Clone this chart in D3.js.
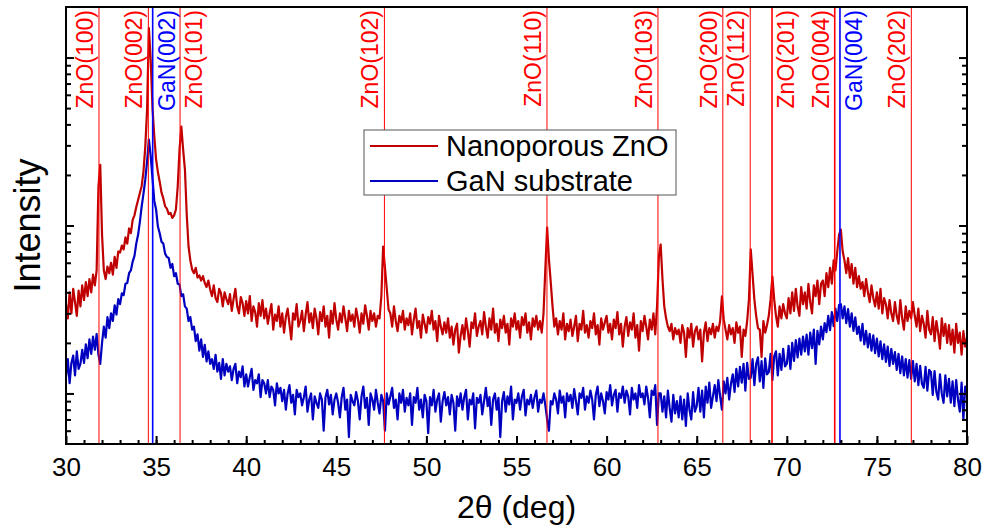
<!DOCTYPE html>
<html>
<head>
<meta charset="utf-8">
<script src="https://cdn.jsdelivr.net/npm/d3@7"></script>
<style>
  body { margin: 0; background: #fff; }
  text { font-family: "Liberation Sans", Arial, sans-serif; }
</style>
</head>
<body>
<script>
// 2theta sampling, 0.1 deg from 30 to 80
const twoTheta = d3.range(501).map(i => +(30 + i * 0.1).toFixed(1));

// nanoporous ZnO intensity (counts), one row per degree
const znoCounts = [
  340, 280, 400, 300, 420, 350, 290, 410, 330, 440,
  360, 460, 380, 480, 400, 510, 440, 540, 1700, 2300,
  880, 540, 480, 570, 520, 600, 510, 650, 560, 700,
  690, 760, 720, 850, 780, 960, 900, 1080, 1150, 1290,
  1420, 1560, 1720, 2100, 2950, 4900, 15000, 9700, 5000, 3400,
  2470, 2080, 1820, 1570, 1450, 1300, 1260, 1170, 1190, 1110,
  1150, 1245, 1707, 2834, 3883, 2834, 2154, 1163, 750, 620,
  547, 520, 560, 490, 505, 470, 500, 455, 430, 470,
  416, 380, 440, 370, 350, 420, 395, 330, 400, 365,
  340, 390, 310, 365, 420, 330, 300, 375, 345, 290,
  355, 300, 380, 270, 330, 305, 250, 345, 290, 360,
  280, 320, 260, 300, 340, 240, 295, 270, 330, 250,
  300, 230, 285, 320, 260, 210, 300, 275, 340, 250,
  270, 310, 235, 295, 350, 265, 300, 245, 320, 280,
  225, 305, 270, 330, 250, 290, 215, 310, 260, 345,
  275, 240, 300, 265, 330, 280, 235, 310, 270, 295,
  250, 320, 280, 230, 300, 260, 335, 290, 240, 310,
  270, 300, 250, 290, 280, 380, 750, 560, 420, 316,
  300, 250, 330, 270, 235, 290, 265, 310, 240, 280,
  255, 300, 225, 275, 320, 245, 270, 215, 295, 260,
  230, 285, 260, 310, 240, 270, 205, 290, 250, 225,
  265, 230, 280, 215, 250, 195, 240, 260, 175, 220,
  255, 210, 280, 235, 190, 265, 245, 300, 220, 250,
  270, 225, 305, 250, 215, 280, 240, 320, 230, 260,
  205, 275, 245, 290, 230, 260, 195, 280, 250, 300,
  240, 270, 215, 285, 255, 300, 230, 265, 210, 280,
  250, 290, 240, 270, 230, 300, 550, 973, 628, 460,
  330, 250, 280, 225, 270, 240, 300, 210, 260, 235,
  275, 220, 250, 290, 205, 260, 240, 310, 230, 255,
  215, 270, 245, 300, 225, 255, 195, 280, 240, 265,
  290, 230, 260, 210, 275, 245, 305, 225, 260, 190,
  250, 285, 220, 265, 240, 300, 215, 255, 180, 270,
  235, 290, 250, 210, 275, 240, 300, 225, 330, 650,
  771, 480, 330, 280, 250, 235, 260, 210, 245, 225,
  240, 200, 255, 230, 165, 245, 215, 260, 190, 235,
  250, 210, 240, 155, 230, 265, 205, 245, 225, 260,
  215, 250, 235, 270, 378, 276, 240, 210, 255, 225,
  245, 200, 265, 230, 250, 165, 240, 220, 270, 363,
  720, 511, 363, 290, 245, 240, 165, 270, 230, 255,
  290, 363, 497, 363, 290, 250, 330, 280, 340, 300,
  280, 370, 300, 400, 310, 420, 330, 290, 430, 340,
  400, 320, 450, 350, 300, 440, 380, 470, 340, 450,
  470, 380, 520, 430, 560, 450, 620, 540, 700, 880,
  946, 700, 620, 520, 640, 490, 590, 450, 560, 430,
  500, 420, 460, 380, 480, 400, 350, 440, 370, 330,
  400, 320, 420, 300, 370, 340, 280, 360, 300, 270,
  350, 290, 260, 360, 280, 240, 330, 270, 310, 280,
  350, 290, 250, 320, 235, 290, 260, 215, 310, 240,
  225, 285, 205, 270, 230, 185, 280, 220, 260, 200,
  255, 195, 240, 175, 260, 200, 230, 170, 235, 190,
  215
];

// GaN substrate intensity (counts)
const ganCounts = [
  125, 160, 115, 152, 168, 128, 178, 140, 150, 182,
  152, 196, 162, 210, 172, 218, 182, 226, 170, 150,
  200, 250, 215, 285, 245, 300, 270, 335, 295, 365,
  340, 395, 385, 450, 455, 520, 540, 610, 660, 780,
  880, 1050, 1300, 1550, 1880, 2400, 3250, 2600, 1900, 1400,
  1245, 986, 900, 800, 780, 680, 650, 640, 560, 590,
  500, 520, 450, 445, 380, 390, 330, 320, 270, 285,
  240, 250, 205, 225, 180, 210, 165, 195, 155, 178,
  150, 160, 140, 170, 135, 152, 122, 160, 128, 150,
  135, 145, 120, 140, 150, 115, 135, 125, 145, 110,
  130, 110, 125, 140, 105, 120, 115, 130, 95, 120,
  115, 100, 120, 95, 110, 105, 85, 115, 100, 108,
  90, 105, 80, 100, 112, 88, 98, 75, 105, 95,
  100, 85, 95, 110, 78, 92, 100, 70, 96, 88,
  82, 100, 92, 60, 95, 105, 86, 98, 75, 92,
  100, 88, 72, 95, 108, 80, 92, 55, 98, 90,
  85, 102, 90, 70, 96, 110, 82, 94, 65, 100,
  92, 80, 105, 88, 76, 98, 90, 60, 100, 86,
  96, 108, 82, 92, 70, 100, 88, 105, 78, 94,
  85, 100, 65, 95, 88, 108, 80, 92, 72, 98,
  90, 58, 95, 85, 105, 78, 92, 100, 68, 90,
  102, 85, 95, 75, 98, 88, 60, 96, 84, 100,
  80, 95, 105, 70, 92, 86, 100, 62, 94, 88,
  98, 75, 90, 108, 84, 95, 65, 92, 100, 80,
  94, 55, 90, 102, 78, 96, 86, 110, 70, 92,
  88, 100, 80, 96, 105, 74, 92, 86, 98, 82,
  95, 104, 78, 92, 88, 100, 85, 70, 60, 90,
  86, 100, 92, 76, 104, 88, 96, 72, 100, 90,
  98, 82, 106, 90, 75, 100, 94, 108, 80, 96,
  88, 104, 92, 70, 98, 110, 84, 100, 90, 76,
  102, 92, 112, 85, 98, 105, 78, 100, 94, 110,
  88, 104, 96, 75, 108, 92, 100, 82, 112, 95,
  100, 86, 110, 94, 72, 104, 98, 112, 65, 100,
  100, 78, 96, 72, 104, 82, 68, 98, 76, 90,
  72, 96, 70, 92, 64, 100, 80, 70, 102, 78,
  84, 108, 78, 104, 72, 110, 88, 116, 82, 96,
  112, 90, 120, 96, 80, 118, 100, 124, 92, 114,
  130, 102, 140, 110, 144, 116, 150, 104, 152, 122,
  124, 160, 112, 150, 164, 118, 156, 108, 162, 130,
  134, 172, 120, 166, 178, 128, 172, 138, 184, 145,
  150, 192, 140, 200, 156, 208, 164, 212, 170, 218,
  178, 224, 170, 230, 186, 240, 150, 236, 196, 250,
  210, 262, 232, 290, 238, 305, 252, 320, 270, 336,
  340, 280, 330, 262, 318, 250, 300, 236, 284, 226,
  250, 206, 260, 196, 236, 188, 226, 180, 222, 174,
  212, 166, 204, 160, 196, 154, 190, 146, 184, 150,
  176, 138, 172, 132, 166, 128, 160, 124, 158, 122,
  156, 118, 150, 112, 146, 114, 108, 144, 104, 138,
  134, 98, 136, 102, 92, 130, 100, 88, 128, 96,
  122, 88, 118, 84, 120, 92, 78, 116, 70, 110,
  98
];

// reference peak positions
const refLabels = ["ZnO(100)", "ZnO(002)", "GaN(002)", "ZnO(101)", "ZnO(102)", "ZnO(110)", "ZnO(103)",
  "ZnO(200)", "ZnO(112)", "ZnO(201)", "ZnO(004)", "GaN(004)", "ZnO(202)"];
const refPos = [31.83, 34.57, 34.81, 36.33, 47.67, 56.69, 62.85, 66.45, 67.97, 69.18, 72.66, 72.95, 76.91];

const seriesNames = ["Nanoporous ZnO", "GaN substrate"];
const xTicks = [30, 35, 40, 45, 50, 55, 60, 65, 70, 75, 80];

// layout
const W = 985, H = 529;
const margin = { top: 7, right: 18, bottom: 85, left: 66 },
  width = W - margin.left - margin.right,
  height = H - margin.top - margin.bottom;

// labels drawn on the right-hand side of their line
const rightSide = ["GaN(002)", "ZnO(101)", "ZnO(201)", "GaN(004)"];
const boldLines = ["GaN(002)", "ZnO(201)", "ZnO(004)", "GaN(004)"];

const x = d3.scaleLinear().domain([30, 80]).range([0, width]);
const y = d3.scaleLog().domain([50, 20000]).range([height, 0]);

const svg = d3.select("body").append("svg")
  .attr("width", W)
  .attr("height", H);

const g = svg.append("g")
  .attr("transform", "translate(" + margin.left + "," + margin.top + ")");

g.append("clipPath").attr("id", "plot")
  .append("rect").attr("width", width).attr("height", height);

const line = d3.line()
  .x(d => x(d[0]))
  .y(d => y(d[1]));

const colors = ["#c00000", "#0000c0"];
const series = [znoCounts, ganCounts].map(s => twoTheta.map((t, i) => [t, s[i]]));

// data curves
g.append("g").attr("clip-path", "url(#plot)")
  .selectAll("path")
  .data(series)
  .enter().append("path")
  .attr("d", line)
  .attr("fill", "none")
  .attr("stroke", (d, i) => colors[i])
  .attr("stroke-width", 2.2)
  .attr("stroke-linejoin", "round");

// reference lines and labels
const refColor = l => l.startsWith("GaN") ? "#0000ff" : "#ff0000";
const refs = g.append("g").selectAll("g")
  .data(refLabels)
  .enter().append("g");

refs.append("line")
  .attr("x1", (d, i) => x(refPos[i]))
  .attr("x2", (d, i) => x(refPos[i]))
  .attr("y1", 0)
  .attr("y2", height)
  .attr("stroke", refColor)
  .attr("stroke-width", d => boldLines.includes(d) ? 1.6 : 1);

refs.append("text")
  .attr("transform", (d, i) => {
    const px = x(refPos[i]) + (rightSide.includes(d) ? 22 : -6);
    return "translate(" + px + ",3) rotate(-90)";
  })
  .attr("text-anchor", "end")
  .attr("font-size", 23)
  .attr("fill", refColor)
  .text(d => d);

// axes: inward ticks
const xAxis = d3.axisBottom(x).tickValues(xTicks).tickSize(-8).tickPadding(14).tickFormat(d3.format("d"));
const xMinor = d3.axisBottom(x).tickValues(d3.range(31, 80)).tickSize(-4).tickFormat("");

g.append("g").attr("transform", "translate(0," + height + ")").call(xMinor);
const gx = g.append("g").attr("transform", "translate(0," + height + ")").call(xAxis);
gx.selectAll("text").attr("font-size", 26).attr("fill", "#000");

const majorY = [100, 1000, 10000];
const minorY = [];
[10, 100, 1000, 10000].forEach(dec => d3.range(2, 10).forEach(k => {
  const v = dec * k;
  if (v > 50 && v < 20000 && !majorY.includes(v)) minorY.push(v);
}));

[[d3.axisLeft, 0], [d3.axisRight, width]].forEach(([ax, pos]) => {
  g.append("g").attr("transform", "translate(" + pos + ",0)")
    .call(ax(y).tickValues(majorY).tickSize(-8).tickFormat(""));
  g.append("g").attr("transform", "translate(" + pos + ",0)")
    .call(ax(y).tickValues(minorY).tickSize(-5).tickFormat(""));
});

g.selectAll(".domain").remove();
g.selectAll(".tick line").attr("stroke", "#000").attr("stroke-width", 2);

// frame
g.append("rect")
  .attr("width", width)
  .attr("height", height)
  .attr("fill", "none")
  .attr("stroke", "#000")
  .attr("stroke-width", 2);

// axis titles
svg.append("text")
  .attr("x", margin.left + width / 2)
  .attr("y", 518)
  .attr("text-anchor", "middle")
  .attr("font-size", 32)
  .text("2θ (deg)");

svg.append("text")
  .attr("transform", "translate(40," + (margin.top + height / 2) + ") rotate(-90)")
  .attr("text-anchor", "middle")
  .attr("font-size", 36)
  .text("Intensity");

// legend
const legend = svg.append("g").attr("transform", "translate(364,130)");
legend.append("rect")
  .attr("width", 312)
  .attr("height", 65)
  .attr("fill", "#fff")
  .attr("stroke", "#555")
  .attr("stroke-width", 1);

const items = legend.selectAll(".item")
  .data(seriesNames)
  .enter().append("g")
  .attr("class", "item")
  .attr("transform", (d, i) => "translate(0," + (16 + i * 35) + ")");

items.append("line")
  .attr("x1", 6).attr("x2", 74)
  .attr("stroke", (d, i) => colors[i])
  .attr("stroke-width", 2);

items.append("text")
  .attr("x", 82)
  .attr("y", 10)
  .attr("font-size", 29)
  .text(d => d);
</script>
</body>
</html>
